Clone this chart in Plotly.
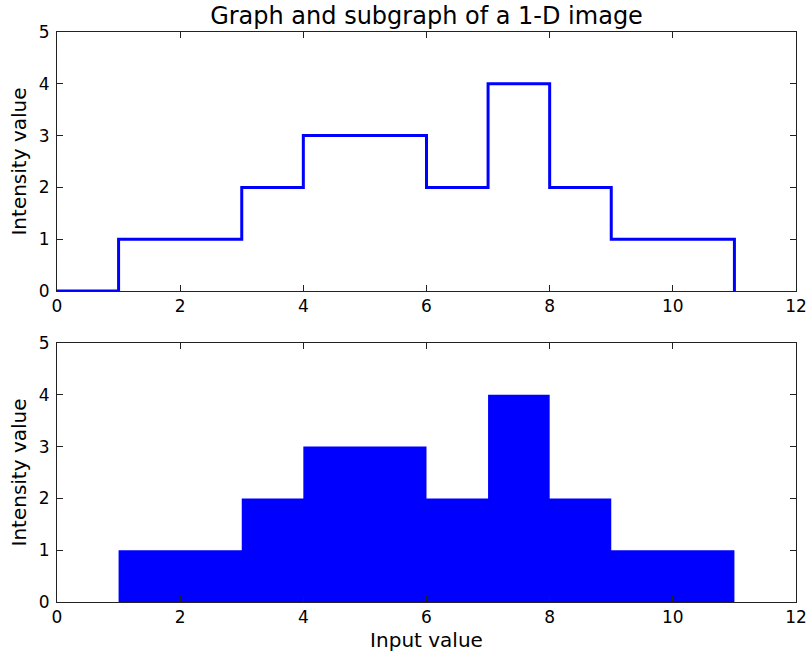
import plotly.graph_objects as go
from plotly.subplots import make_subplots

x_vals = [0, 1, 2, 3, 4, 5, 6, 7, 8, 9, 10, 11]
intensity = [0, 1, 1, 2, 3, 3, 2, 4, 2, 1, 1, 0]
x_ticks = [0, 2, 4, 6, 8, 10, 12]
y_ticks = [0, 1, 2, 3, 4, 5]

fig = make_subplots(rows=2, cols=1, vertical_spacing=0.0912)

fig.add_trace(go.Scatter(x=x_vals, y=intensity, mode="lines",
                         line=dict(color="#0000ff", width=3, shape="hv"),
                         showlegend=False), row=1, col=1)
fig.add_trace(go.Scatter(x=x_vals, y=intensity, mode="lines",
                         line=dict(color="#0000ff", width=0, shape="hv"),
                         fill="tozeroy", fillcolor="#0000ff",
                         showlegend=False), row=2, col=1)

tick_font = dict(family="DejaVu Sans", size=17, color="black")
label_font = dict(family="DejaVu Sans", size=20, color="black")
axis_common = dict(showline=True, linecolor="#222222", linewidth=1, mirror="ticks",
                   ticks="inside", ticklen=6, tickcolor="#222222", tickwidth=1,
                   showgrid=False, zeroline=False, tickfont=tick_font, automargin=False)

for r in (1, 2):
    fig.update_xaxes(range=[0, 12], tickvals=x_ticks, row=r, col=1, **axis_common)
    fig.update_yaxes(range=[0, 5], tickvals=y_ticks, row=r, col=1,
                     ticklabelstandoff=3, **axis_common)
    fig.update_yaxes(title=dict(text="Intensity value", font=label_font, standoff=6), row=r, col=1)

fig.update_xaxes(title=dict(text="Input value", font=label_font, standoff=6), row=2, col=1)

fig.update_layout(
    width=807, height=657,
    margin=dict(l=57, r=11, t=32, b=55),
    plot_bgcolor="white", paper_bgcolor="white",
    font=tick_font,
    title=dict(text="Graph and subgraph of a 1-D image", x=426.5 / 807, xanchor="center",
               y=1 - 16 / 657, yanchor="middle",
               font=dict(family="DejaVu Sans", size=24, color="black")),
)

fig.write_html("out.html", config={"displayModeBar": False},
               post_script="document.body.style.margin='0px';")
